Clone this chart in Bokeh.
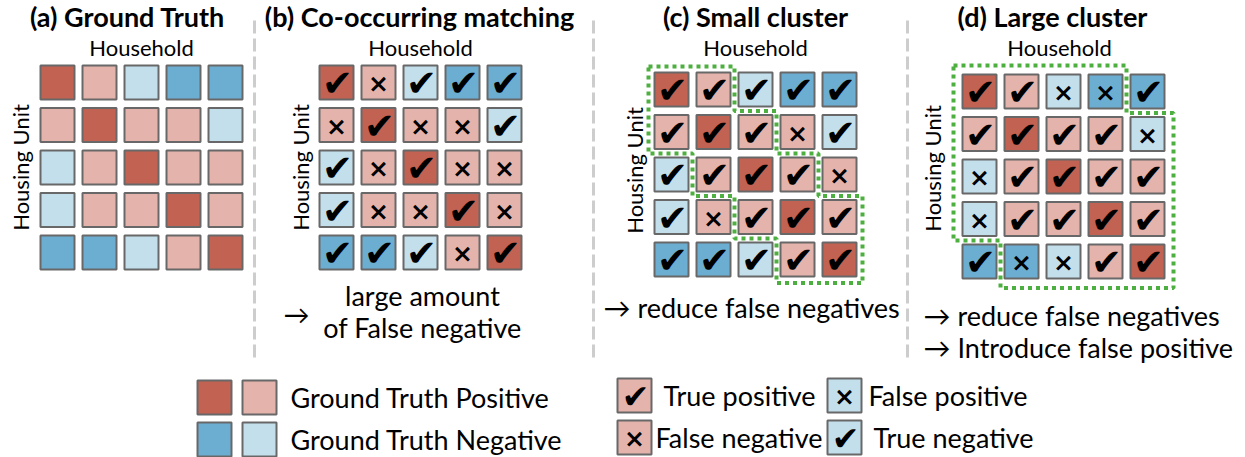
import math
from bokeh.plotting import figure
from bokeh.models import Range1d
from bokeh.core.properties import value
from bokeh.embed import file_html
from bokeh.resources import INLINE

# ---------------- data ----------------
# ground-truth cell classes: D = dark red (match), L = light red (positive),
# B = dark blue (negative), b = light blue (negative)
ground_truth = [
    ["D", "L", "b", "B", "B"],
    ["L", "D", "L", "L", "b"],
    ["b", "L", "D", "L", "L"],
    ["b", "L", "L", "D", "L"],
    ["B", "B", "b", "L", "D"],
]
# predicted marks: 1 = check, 0 = cross
marks_cooccur = [
    [1, 0, 1, 1, 1],
    [0, 1, 0, 0, 1],
    [1, 0, 1, 0, 0],
    [1, 0, 0, 1, 0],
    [1, 1, 1, 0, 1],
]
marks_small = [
    [1, 1, 1, 1, 1],
    [1, 1, 1, 0, 1],
    [1, 1, 1, 1, 0],
    [1, 0, 1, 1, 1],
    [1, 1, 1, 1, 1],
]
marks_large = [
    [1, 1, 0, 0, 1],
    [1, 1, 1, 1, 0],
    [0, 1, 1, 1, 1],
    [0, 1, 1, 1, 1],
    [1, 0, 0, 1, 1],
]
# cluster outlines as (column boundary, row boundary) vertices
cluster_small = [(0, 0), (2, 0), (2, 1), (3, 1), (3, 2), (4, 2), (4, 3), (5, 3), (5, 5),
                 (3, 5), (3, 4), (2, 4), (2, 3), (1, 3), (1, 2), (0, 2), (0, 0)]
cluster_large = [(0, 0), (4, 0), (4, 1), (5, 1), (5, 5), (1, 5), (1, 4), (0, 4), (0, 0)]

titles = ["(a) Ground Truth", "(b) Co-occurring matching", "(c) Small cluster", "(d) Large cluster"]
col_label = "Household"
row_label = "Housing Unit"
notes_b = ["large amount", "of False negative"]
notes_c = ["\u2192 reduce false negatives"]
notes_d = ["\u2192 reduce false negatives", "\u2192 Introduce false positive"]
gt_legend = ["Ground Truth Positive", "Ground Truth Negative"]
outcome_legend = ["True positive", "False positive", "False negative", "True negative"]

# ---------------- style ----------------
COLORS = {"D": "#C26253", "L": "#E4B3AC", "B": "#6BAED2", "b": "#C3DFEC"}
EDGE = "#686868"
GREEN = "#4CAF3F"
FONT = "Lato"
CHECK = "\u2714"
CROSS = "\u00d7"
CELL = 34
PX, PY = 42, 42.5
W, H = 1245, 457

p = figure(width=W, height=H, x_range=Range1d(0, W), y_range=Range1d(-H, 0),
           output_backend="svg", toolbar_location=None, x_axis_type=None, y_axis_type=None,
           min_border=0, background_fill_color="white", border_fill_color="white")
p.grid.visible = False
p.outline_line_color = None


def Y(v):
    return -v


def txt(x, y, s, size, bold=False, align="center", angle=0.0, font=FONT):
    p.text(x=[x], y=[Y(y)], text=[s], text_font=value(font), text_font_size=size,
           text_font_style="bold" if bold else "normal", text_align=align,
           text_baseline="middle", text_color="black", angle=angle)


def cell(cx, cy, color_key, mark=None, size=CELL, check_size="37px"):
    p.rect(x=[cx], y=[Y(cy)], width=size, height=size, fill_color=COLORS[color_key],
           line_color=EDGE, line_width=2)
    if mark == 1:
        txt(cx + 1, cy + 1, CHECK, check_size, font="DejaVu Sans")
    elif mark == 0:
        txt(cx, cy + 1, CROSS, "25px", bold=True, font="DejaVu Sans")


panels = [
    dict(x0=40, y0=65, tx=127, hx=141, ux=20, uy=167, marks=None, cluster=None, pad=0),
    dict(x0=319, y0=65, tx=419, hx=420, ux=300, uy=167, marks=marks_cooccur, cluster=None, pad=0),
    dict(x0=654, y0=72, tx=755, hx=755, ux=634, uy=170, marks=marks_small, cluster=cluster_small, pad=2),
    dict(x0=962, y0=74, tx=1052, hx=1059, ux=932, uy=168, marks=marks_large, cluster=cluster_large, pad=5),
]

for i, pn in enumerate(panels):
    txt(pn["tx"], 16, titles[i], "27px", bold=True)
    txt(pn["hx"], 47, col_label, "22px")
    txt(pn["ux"], pn["uy"], row_label, "22px", angle=math.pi / 2)
    for r in range(5):
        for c in range(5):
            cx = pn["x0"] + CELL / 2 + c * PX
            cy = pn["y0"] + CELL / 2 + r * PY
            m = pn["marks"][r][c] if pn["marks"] else None
            cell(cx, cy, ground_truth[r][c], m)
    if pn["cluster"]:
        xs, ys = [], []
        for k, rr in pn["cluster"]:
            x = pn["x0"] - 4 + k * PX + (-pn["pad"] if k == 0 else pn["pad"] if k == 5 else 0)
            y = pn["y0"] - 4 + rr * PY + (-pn["pad"] if rr == 0 else pn["pad"] if rr == 5 else 0)
            xs.append(x)
            ys.append(Y(y))
        p.line(xs, ys, line_color=GREEN, line_width=4, line_dash="4 4", line_cap="butt")

# separators
for sx in [254, 593, 907]:
    p.line([sx, sx], [Y(20), Y(357)], line_color="#CDCDCD", line_width=3, line_dash="13 5")

# notes
txt(296, 313, "\u2192", "26px")
txt(422, 295, notes_b[0], "27px")
txt(422, 327, notes_b[1], "27px")
txt(603, 307, notes_c[0], "27px", align="left")
txt(923, 315, notes_d[0], "27px", align="left")
txt(923, 347, notes_d[1], "27px", align="left")

# ground-truth legend
lx, ly = 197, 380
for j, key in enumerate([("D", "L"), ("B", "b")]):
    cy = ly + 17 + j * 42
    cell(lx + 17, cy, key[0])
    cell(lx + 17 + 45, cy, key[1])
    txt(290, cy, gt_legend[j], "27px", align="left")

# outcome legend
ox, oy = 617, 377
items = [("L", 1, 0, 0, 663), ("b", 0, 1, 0, 868), ("L", 0, 0, 1, 655), ("b", 1, 1, 1, 873)]
for j, (key, m, col, row, tx) in enumerate(items):
    cx = ox + 17 + col * 210
    cy = oy + 18 + row * 42
    cell(cx, cy, key, m, check_size="33px")
    txt(tx, cy, outcome_legend[j], "27px", align="left")

open("out.html", "w").write(file_html(p, INLINE))
